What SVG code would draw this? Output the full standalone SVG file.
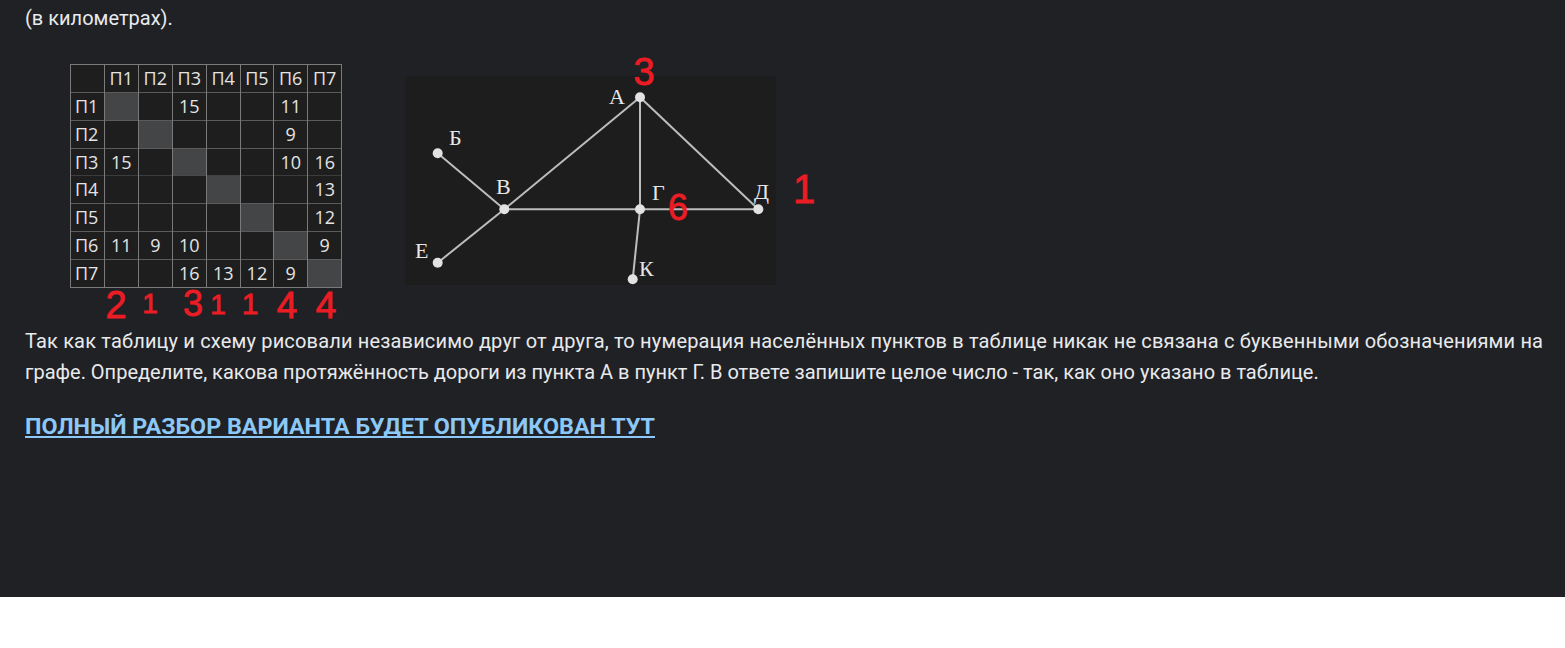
<svg xmlns="http://www.w3.org/2000/svg" width="1565" height="648" viewBox="0 0 1565 648">
<style>
.para{font-family:Roboto,"Liberation Sans",sans-serif;font-size:20px;fill:#e8eaed}
.link{font-family:Roboto,"Liberation Sans",sans-serif;font-size:22px;font-weight:bold;fill:#8cc8f8}
.cell{font-family:"Open Sans","Noto Sans",sans-serif;font-size:18px;fill:#e4e4e4;text-anchor:middle}
.rowh{font-family:"Open Sans","Noto Sans",sans-serif;font-size:18px;fill:#e4e4e4}
.vl{stroke:#7a7a7a;stroke-width:1}
.hl{stroke:#5a5a5a;stroke-width:1}
.diag{fill:#444546}
.edge{stroke:#bdbdbd;stroke-width:2;fill:none}
.dot{fill:#e2e2e2}
.lbl{font-family:"Liberation Serif","DejaVu Serif",serif;font-size:22px;fill:#e6e6e6}
.red{font-family:"Liberation Sans",sans-serif;fill:#ec1c24;stroke:#ec1c24;stroke-width:0.8;text-anchor:middle}
</style>
<rect x="0" y="0" width="1565" height="597" fill="#202124"/>
<rect x="0" y="597" width="1565" height="51" fill="#ffffff"/>

<text class="para" x="25" y="25">(в километрах).</text>

<g id="table">
<rect x="70.5" y="64.5" width="271" height="223" fill="#1e1e1e"/>
<rect class="diag" x="104.5" y="92.5" width="34" height="27.5"/>
<rect class="diag" x="138.5" y="120" width="34" height="28"/>
<rect class="diag" x="172.5" y="148" width="34" height="27.7"/>
<rect class="diag" x="206.5" y="175.7" width="33.5" height="28"/>
<rect class="diag" x="240" y="203.7" width="33.7" height="28"/>
<rect class="diag" x="273.7" y="231.7" width="34" height="27.6"/>
<rect class="diag" x="307.7" y="259.3" width="34" height="28"/>
<g>
<line class="hl" x1="70.5" y1="92.5" x2="341.5" y2="92.5"/>
<line class="hl" x1="70.5" y1="120.5" x2="341.5" y2="120.5"/>
<line class="hl" x1="70.5" y1="148.5" x2="341.5" y2="148.5"/>
<line class="hl" x1="70.5" y1="175.5" x2="341.5" y2="175.5" stroke-opacity="0.5"/>
<line class="hl" x1="70.5" y1="203.5" x2="341.5" y2="203.5"/>
<line class="hl" x1="70.5" y1="231.5" x2="341.5" y2="231.5"/>
<line class="hl" x1="70.5" y1="259.5" x2="341.5" y2="259.5"/>
<line class="vl" x1="104.5" y1="64.5" x2="104.5" y2="287.5"/>
<line class="vl" x1="138.5" y1="64.5" x2="138.5" y2="287.5"/>
<line class="vl" x1="172.5" y1="64.5" x2="172.5" y2="287.5"/>
<line class="vl" x1="206.5" y1="64.5" x2="206.5" y2="287.5"/>
<line class="vl" x1="240.5" y1="64.5" x2="240.5" y2="287.5"/>
<line class="vl" x1="273.5" y1="64.5" x2="273.5" y2="287.5"/>
<line class="vl" x1="307.5" y1="64.5" x2="307.5" y2="287.5"/>
<rect x="70.5" y="64.5" width="271" height="223" fill="none" stroke="#7a7a7a"/>
</g>
<g>
<text class="cell" x="121.3" y="85">П1</text>
<text class="cell" x="155.3" y="85">П2</text>
<text class="cell" x="189.3" y="85">П3</text>
<text class="cell" x="223.2" y="85">П4</text>
<text class="cell" x="256.9" y="85">П5</text>
<text class="cell" x="290.7" y="85">П6</text>
<text class="cell" x="324.7" y="85">П7</text>
<text class="rowh" x="75" y="112.8">П1</text>
<text class="rowh" x="75" y="140.6">П2</text>
<text class="rowh" x="75" y="168.5">П3</text>
<text class="rowh" x="75" y="196.3">П4</text>
<text class="rowh" x="75" y="224.2">П5</text>
<text class="rowh" x="75" y="252.1">П6</text>
<text class="rowh" x="75" y="279.9">П7</text>
<text class="cell" x="189.3" y="112.8">15</text>
<text class="cell" x="290.7" y="112.8">11</text>
<text class="cell" x="290.7" y="140.6">9</text>
<text class="cell" x="121.3" y="168.5">15</text>
<text class="cell" x="290.7" y="168.5">10</text>
<text class="cell" x="324.7" y="168.5">16</text>
<text class="cell" x="324.7" y="196.3">13</text>
<text class="cell" x="324.7" y="224.2">12</text>
<text class="cell" x="121.3" y="252.1">11</text>
<text class="cell" x="155.3" y="252.1">9</text>
<text class="cell" x="189.3" y="252.1">10</text>
<text class="cell" x="324.7" y="252.1">9</text>
<text class="cell" x="189.3" y="279.9">16</text>
<text class="cell" x="223.2" y="279.9">13</text>
<text class="cell" x="256.9" y="279.9">12</text>
<text class="cell" x="290.7" y="279.9">9</text>
</g>
</g>

<g id="table-notes">
<text class="red" x="116" y="318" font-size="38">2</text>
<text class="red" x="150" y="313" font-size="28">1</text>
<text class="red" x="193" y="316" font-size="36">3</text>
<text class="red" x="218" y="314" font-size="28">1</text>
<text class="red" x="250" y="314" font-size="30">1</text>
<text class="red" x="287" y="318" font-size="37">4</text>
<text class="red" x="326" y="318" font-size="37">4</text>
</g>

<rect x="405" y="76" width="371" height="209" fill="#1d1d1e"/>

<g id="connectors">
<line class="edge" x1="437.7" y1="153.3" x2="504.3" y2="209.3"/>
<line class="edge" x1="437.7" y1="262.7" x2="504.3" y2="209.3"/>
<line class="edge" x1="504.3" y1="209.3" x2="640" y2="97.3"/>
<line class="edge" x1="640" y1="97.3" x2="640" y2="209.3"/>
<line class="edge" x1="640" y1="97.3" x2="758.3" y2="209.3"/>
<line class="edge" x1="504.3" y1="209.3" x2="640" y2="209.3"/>
<line class="edge" x1="640" y1="209.3" x2="758.3" y2="209.3"/>
<line class="edge" x1="640" y1="209.3" x2="632.7" y2="279.3"/>
</g>

<g id="node-A"><circle class="dot" cx="640" cy="97.3" r="5"/><text class="lbl" x="609" y="104">А</text></g>
<g id="node-B"><circle class="dot" cx="437.7" cy="153.3" r="5"/><text class="lbl" x="449" y="145">Б</text></g>
<g id="node-V"><circle class="dot" cx="504.3" cy="209.3" r="5"/><text class="lbl" x="496" y="194">В</text></g>
<g id="node-G"><circle class="dot" cx="640" cy="209.3" r="5"/><text class="lbl" x="652" y="200">Г</text></g>
<g id="node-D"><circle class="dot" cx="758.3" cy="209.3" r="5"/><text class="lbl" x="754" y="199">Д</text></g>
<g id="node-E"><circle class="dot" cx="437.7" cy="262.7" r="5"/><text class="lbl" x="415" y="258">Е</text></g>
<g id="node-K"><circle class="dot" cx="632.7" cy="279.3" r="5"/><text class="lbl" x="639" y="276">К</text></g>

<g id="graph-notes">
<text class="red" x="644" y="85" font-size="38">3</text>
<text class="red" x="678" y="220" font-size="36">6</text>
<text class="red" x="804" y="203" font-size="40">1</text>
</g>

<text class="para" x="25" y="348" textLength="1518" lengthAdjust="spacing">Так как таблицу и схему рисовали независимо друг от друга, то нумерация населённых пунктов в таблице никак не связана с буквенными обозначениями на</text>
<text class="para" x="25" y="379">графе. Определите, какова протяжённость дороги из пункта А в пункт Г. В ответе запишите целое число - так, как оно указано в таблице.</text>

<g id="link">
<text class="link" x="25" y="434" textLength="630" lengthAdjust="spacingAndGlyphs">ПОЛНЫЙ РАЗБОР ВАРИАНТА БУДЕТ ОПУБЛИКОВАН ТУТ</text>
<rect x="25" y="436" width="630" height="2" fill="#8cc8f8"/>
</g>
</svg>
